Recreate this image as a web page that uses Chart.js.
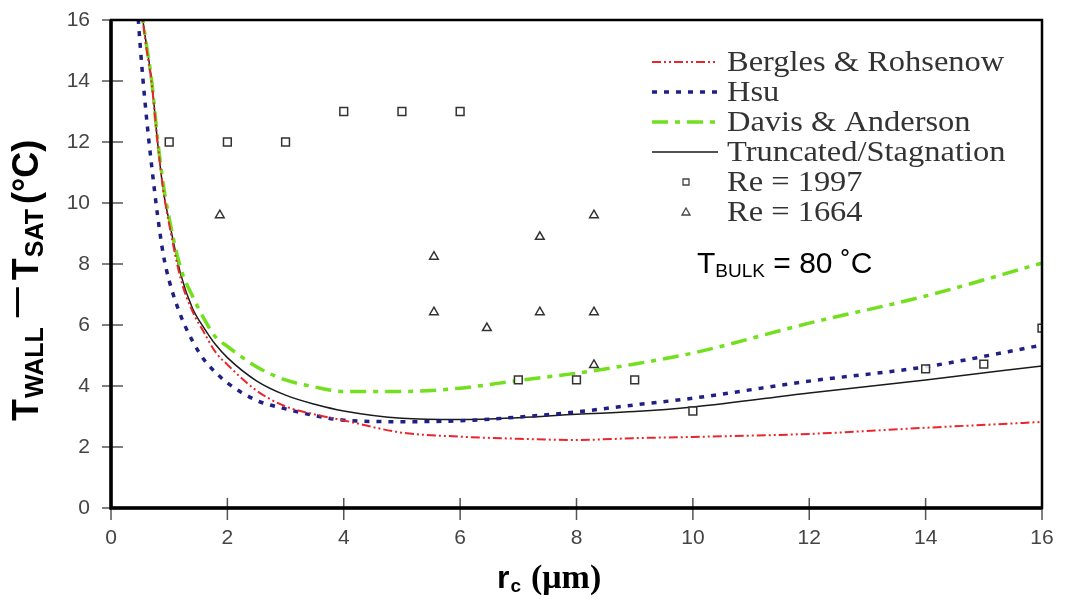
<!DOCTYPE html>
<html>
<head>
<meta charset="utf-8">
<script src="https://cdn.jsdelivr.net/npm/chart.js@4.4.1/dist/chart.umd.min.js"></script>
<style>
  body { margin: 0; background: #fff; }
</style>
</head>
<body>
<canvas id="chart" width="1067" height="599"></canvas>
<script>
// model curves, sampled along r_c (um)
const rc = [0.4, 0.5, 0.6, 0.7, 0.8, 0.9, 1.0, 1.2, 1.4, 1.6, 1.8, 2.0, 2.5, 3.0, 3.5, 4.0, 5.0, 6.0, 7.0, 8.0, 9.0, 10, 12, 14, 16];
const bergles = [18.7, 16.7, 15.2, 13.9, 12.0, 10.4, 9.3, 7.5, 6.45, 5.75, 5.1, 4.7, 3.85, 3.33, 3.07, 2.87, 2.47, 2.34, 2.27, 2.23, 2.29, 2.33, 2.43, 2.63, 2.82];
const hsu = [18.0, 15.2, 13.0, 11.2, 9.6, 8.3, 7.45, 6.3, 5.48, 4.86, 4.44, 4.1, 3.53, 3.25, 3.03, 2.88, 2.83, 2.86, 2.98, 3.15, 3.38, 3.6, 4.16, 4.63, 5.34];
const davis = [18.7, 16.7, 15.3, 14.0, 12.1, 10.6, 9.5, 7.85, 6.95, 6.2, 5.6, 5.3, 4.63, 4.2, 3.97, 3.82, 3.82, 3.93, 4.18, 4.42, 4.72, 5.08, 6.06, 6.95, 8.03];
const truncated = [18.7, 16.7, 15.3, 14.0, 12.0, 10.4, 9.4, 7.65, 6.55, 5.9, 5.35, 4.93, 4.17, 3.7, 3.4, 3.18, 2.94, 2.9, 2.96, 3.07, 3.16, 3.31, 3.77, 4.2, 4.66];

// measurements
const re1997X = [1, 2, 3, 4, 5, 6, 7, 8, 9, 10, 14, 15, 16];
const re1997Y = [12, 12, 12, 13, 13, 13, 4.2, 4.2, 4.2, 3.18, 4.56, 4.72, 5.9];
const re1664X = [1.87, 5.55, 5.55, 6.46, 7.37, 7.37, 8.3, 8.3, 8.3];
const re1664Y = [9.6, 8.24, 6.42, 5.9, 8.89, 6.42, 9.6, 6.42, 4.69];

const xTicks = [0, 2, 4, 6, 8, 10, 12, 14, 16];
const yTicks = [0, 2, 4, 6, 8, 10, 12, 14, 16];

const pts = (xs, ys) => xs.map((x, i) => ({ x: x, y: ys[i] }));

function curve(label, ys, color, width, dash) {
    return {
        label: label,
        data: pts(rc, ys),
        showLine: true,
        borderColor: color,
        backgroundColor: color,
        borderWidth: width,
        borderDash: dash,
        pointRadius: 0,
        cubicInterpolationMode: 'monotone',
        order: 1
    };
}

function marks(label, xs, ys, style, r) {
    return {
        label: label,
        data: pts(xs, ys),
        showLine: false,
        pointStyle: style,
        pointRadius: r,
        borderColor: '#333',
        backgroundColor: 'rgba(255,255,255,0.85)',
        borderWidth: 1.5,
        order: 0
    };
}

// legend drawn inside the plot, like the paper figure
const paperLegend = {
    id: 'paperLegend',
    afterDatasetsDraw(chart) {
        const ctx = chart.ctx;
        chart.data.datasets.forEach((ds, i) => {
            const y = 62 + i * 30;
            ctx.save();
            if (ds.showLine) {
                ctx.strokeStyle = ds.borderColor;
                ctx.lineWidth = ds.borderWidth;
                ctx.setLineDash(ds.borderDash || []);
                ctx.beginPath();
                ctx.moveTo(652, y);
                ctx.lineTo(718, y);
                ctx.stroke();
            } else {
                ctx.strokeStyle = '#444';
                ctx.lineWidth = 1.3;
                ctx.beginPath();
                if (ds.pointStyle === 'rect') {
                    ctx.rect(683, y - 3, 6, 6);
                } else {
                    ctx.moveTo(686, y - 4);
                    ctx.lineTo(690, y + 3);
                    ctx.lineTo(682, y + 3);
                    ctx.closePath();
                }
                ctx.stroke();
            }
            ctx.setLineDash([]);
            ctx.fillStyle = '#333';
            ctx.font = '29px "Liberation Serif"';
            ctx.textBaseline = 'middle';
            ctx.translate(727, y + 1);
            ctx.scale(1.12, 1);
            ctx.fillText(ds.label, 0, 0);
            ctx.restore();
        });
    }
};

function drawRich(ctx, parts) {
    let cx = 0;
    parts.forEach(p => {
        cx += p.gap || 0;
        ctx.font = p.font;
        ctx.fillText(p.t, cx, p.dy || 0);
        cx += ctx.measureText(p.t).width;
    });
}

// frame, crossing tick marks, axis titles, note
const paperFrame = {
    id: 'paperFrame',
    afterDraw(chart) {
        const ctx = chart.ctx;
        const a = chart.chartArea;
        const xs = chart.scales.x, ys = chart.scales.y;
        ctx.save();
        ctx.strokeStyle = '#555';
        ctx.lineWidth = 1.5;
        ctx.beginPath();
        yTicks.forEach(v => {
            const py = ys.getPixelForValue(v);
            ctx.moveTo(a.left - 9, py);
            ctx.lineTo(a.left + 12, py);
        });
        xTicks.forEach(v => {
            const px = xs.getPixelForValue(v);
            ctx.moveTo(px, a.bottom - 10);
            ctx.lineTo(px, a.bottom + 12);
        });
        ctx.stroke();

        ctx.strokeStyle = '#000';
        ctx.lineWidth = 2.5;
        ctx.strokeRect(a.left, a.top, a.right - a.left, a.bottom - a.top);
        ctx.lineWidth = 3.5;
        ctx.beginPath();
        ctx.moveTo(a.left, a.top);
        ctx.lineTo(a.left, a.bottom);
        ctx.lineTo(a.right, a.bottom);
        ctx.stroke();

        ctx.fillStyle = '#000';
        ctx.textBaseline = 'alphabetic';

        // y title, rotated
        ctx.save();
        ctx.translate(38, 421);
        ctx.rotate(-Math.PI / 2);
        drawRich(ctx, [
            { t: 'T', font: 'bold 36px "Liberation Sans"' },
            { t: 'WALL', font: 'bold 25px "Liberation Sans"', dy: 5, gap: 1 },
            { t: '\u2014', font: 'bold 30px "Liberation Sans"', dy: -12, gap: 10 },
            { t: 'T', font: 'bold 36px "Liberation Sans"', gap: 7 },
            { t: 'SAT', font: 'bold 25px "Liberation Sans"', dy: 5, gap: 1 },
            { t: '(\u00B0C)', font: 'bold 36px "Liberation Sans"', gap: 5 }
        ]);
        ctx.restore();

        // x title
        ctx.save();
        ctx.translate(497, 588);
        drawRich(ctx, [
            { t: 'r', font: 'bold 32px "Liberation Sans"' },
            { t: 'c', font: 'bold 19px "Liberation Sans"', dy: 4, gap: 1 },
            { t: '(\u03BCm)', font: 'bold 34px "Liberation Serif"', gap: 10 }
        ]);
        ctx.restore();

        // bulk temperature note
        ctx.save();
        ctx.translate(697, 273);
        drawRich(ctx, [
            { t: 'T', font: '30px "Liberation Sans"' },
            { t: 'BULK', font: '19px "Liberation Sans"', dy: 4 },
            { t: ' = 80 \u02DAC', font: '30px "Liberation Sans"' }
        ]);
        ctx.restore();
        ctx.restore();
    }
};

const ctx = document.getElementById('chart').getContext('2d');
const chart = new Chart(ctx, {
    type: 'scatter',
    data: {
        datasets: [
            curve('Bergles & Rohsenow', bergles, '#e8262c', 2, [9, 3, 2, 3, 2, 3]),
            curve('Hsu', hsu, '#1f1f86', 3.5, [5, 7]),
            curve('Davis & Anderson', davis, '#72e01c', 3.5, [16, 7, 5, 7]),
            curve('Truncated/Stagnation', truncated, '#1a1a1a', 1.5, []),
            marks('Re = 1997', re1997X, re1997Y, 'rect', 5.5),
            marks('Re = 1664', re1664X, re1664Y, 'triangle', 5)
        ]
    },
    options: {
        responsive: false,
        animation: false,
        devicePixelRatio: 1,
        layout: { padding: { top: 20, right: 25, left: 0, bottom: 0 } },
        plugins: {
            legend: { display: false },
            tooltip: { enabled: false }
        },
        scales: {
            x: {
                type: 'linear',
                min: 0,
                max: 16,
                afterFit: s => { s.height = 91; s.paddingLeft = 0; s.paddingRight = 0; },
                afterBuildTicks: s => { s.ticks = xTicks.map(v => ({ value: v })); },
                grid: { display: false, drawTicks: false },
                border: { display: false },
                ticks: {
                    padding: 18,
                    color: '#444',
                    font: { family: '"Liberation Sans"', size: 21 }
                }
            },
            y: {
                type: 'linear',
                min: 0,
                max: 16,
                afterFit: s => { s.width = 111; s.paddingTop = 0; s.paddingBottom = 0; },
                afterBuildTicks: s => { s.ticks = yTicks.map(v => ({ value: v })); },
                grid: { display: false, drawTicks: false },
                border: { display: false },
                ticks: {
                    padding: 21,
                    color: '#444',
                    font: { family: '"Liberation Sans"', size: 21 }
                }
            }
        }
    },
    plugins: [paperLegend, paperFrame]
});
</script>
</body>
</html>
